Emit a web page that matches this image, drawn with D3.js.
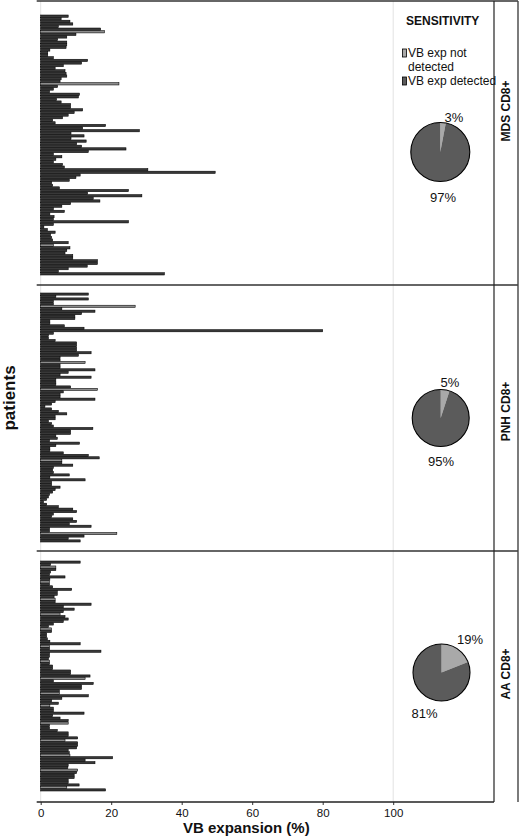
<!DOCTYPE html>
<html><head><meta charset="utf-8">
<script src="https://cdn.jsdelivr.net/npm/d3@7"></script>
<style>
body{margin:0;background:#fff}
svg{display:block}
text{font-family:"Liberation Sans",Arial,Helvetica,sans-serif;fill:#111}
</style>
</head><body>
<svg id="chart" width="520" height="837"></svg>
<script>
// ---------- DATA ----------
const panelNames = ["MDS CD8+", "PNH CD8+", "AA CD8+"];

const mdsValues = [7.8,5.8,8.3,9.1,5.0,17.0,18.1,10.0,7.4,4.8,
7.4,7.4,7.2,2.6,2.0,2.0,3.6,13.3,11.6,6.4,
4.1,6.9,7.2,7.4,5.8,5.5,22.2,4.8,3.6,2.5,
11.0,10.7,4.5,5.8,8.5,8.5,11.9,9.5,7.8,6.2,
3.4,4.1,18.4,11.9,28.0,8.6,12.3,8.6,12.9,10.2,
11.6,24.2,13.5,3.6,6.0,4.3,3.6,6.2,6.7,30.4,
49.5,11.2,10.0,8.1,3.1,3.4,5.3,24.9,13.3,28.7,
14.9,16.8,8.5,6.0,3.6,6.7,2.6,3.8,3.6,24.9,
3.6,0.9,1.9,4.1,2.8,3.1,3.4,7.8,3.6,8.3,
7.4,6.9,9.1,9.1,16.1,16.1,13.2,7.8,5.0,35.1];

const pnhValues = [13.5,4.3,13.5,3.6,3.6,26.8,6.0,15.4,11.6,9.7,
9.7,2.6,2.6,6.7,12.3,80,3.6,2.2,2.2,4.1,
10.2,10.2,10.2,10.2,14.3,10.7,5.5,5.5,12.6,5.5,
5.5,15.4,7.8,5.5,14.3,4.3,4.3,4.3,8.5,16.1,
6.4,5.5,5.5,15.4,4.1,3.1,1.2,3.1,5.0,7.4,
4.1,4.1,2.2,3.1,3.6,14.8,8.5,8.5,
4.3,4.7,2.5,11.0,4.3,2.6,2.6,6.4,13.5,16.6,
6.0,6.0,9.1,3.6,3.4,3.6,8.1,2.6,12.6,3.1,
3.1,5.5,4.1,3.4,2.5,2.2,1.7,0.8,1.7,5.0,
9.1,10.2,3.6,3.1,9.1,10.2,8.1,14.3,2.5,2.5,
21.6,12.3,7.8,11.2];

const aaValues = [11.2,2.8,4.3,4.3,2.8,2.5,6.9,2.6,2.5,2.5,
3.4,8.8,4.7,4.7,3.8,4.1,4.1,14.3,6.4,9.5,
6.4,5.5,6.9,7.8,6.4,3.6,2.2,3.1,3.1,1.7,
1.7,1.9,2.6,11.2,2.5,2.5,17.1,2.5,2.5,2.2,
2.5,2.5,3.4,3.4,8.5,8.5,14.0,12.6,3.6,14.9,
11.6,11.6,5.3,5.3,13.5,6.0,3.1,
5.0,2.6,3.6,3.6,12.3,3.4,5.5,7.8,7.8,2.5,
2.5,4.7,7.8,7.8,10.5,6.9,10.5,10.5,10.2,7.8,
8.1,8.3,20.4,12.6,15.4,7.8,7.7,10.5,10.2,9.5,
9.5,7.8,7.8,10.9,7.4,18.4];

// indices of bars drawn with lighter fill
const mdsLight = [6, 26, 88];
const pnhLight = [5, 28, 39, 68, 98];
const aaLight = [2, 8, 15, 21, 27, 34, 40, 47, 53, 58, 65, 72, 78, 84, 91];

const notDetectedPct = [3, 5, 19];
const detectedPct = [97, 95, 81];
const legendLabels = ["VB exp not\ndetected", "VB exp detected"];
const xTicks = [0, 20, 40, 60, 80, 100];

// ---------- LAYOUT ----------
const svg = d3.select("#chart");
const plotLeft = 36.7, plotRight = 494, outerRight = 518;
const x = d3.scaleLinear().domain([0, 100]).range([40.7, 393.2]);

const layout = [
  {top: 1,   bottom: 285, padTop: 14, padBot: 10, pie: [440.3, 152, 29.5], lblSmall: [454, 122], lblBig: [443, 202], strip: 111},
  {top: 285, bottom: 551, padTop: 8,  padBot: 9,  pie: [440.7, 418, 28.5], lblSmall: [450, 386.5], lblBig: [441, 466], strip: 411.5},
  {top: 551, bottom: 802, padTop: 10, padBot: 11, pie: [441.5, 672.5, 28.5], lblSmall: [470, 644], lblBig: [424.5, 718], strip: 674}
];
const seriesValues = [mdsValues, pnhValues, aaValues];
const seriesLight = [mdsLight, pnhLight, aaLight];

const darkFill = "#383838", lightFill = "#8c8c8c";
const pieDark = "#5b5b5b", pieLight = "#a9a9a9";

// gridlines at 0 and 100
svg.append("g").selectAll("line").data([0, 100]).join("line")
  .attr("x1", d => x(d)).attr("x2", d => x(d))
  .attr("y1", 1).attr("y2", 802)
  .attr("stroke", "#e2e2e2").attr("stroke-width", 1);

layout.forEach((L, p) => {
  const vals = seriesValues[p];
  const light = new Set(seriesLight[p]);
  const y = d3.scaleBand().domain(d3.range(vals.length))
    .range([L.top + L.padTop, L.bottom - L.padBot]).paddingInner(0.12);
  const g = svg.append("g");
  g.selectAll("rect").data(vals).join("rect")
    .attr("x", x(0))
    .attr("y", (d, i) => y(i))
    .attr("width", d => x(d) - x(0))
    .attr("height", y.bandwidth())
    .attr("fill", (d, i) => light.has(i) ? lightFill : darkFill)
    .attr("stroke", "#000").attr("stroke-width", 0.55);

  // pie
  const [cx, cy, r] = L.pie;
  const pie = d3.pie().sort(null)([notDetectedPct[p], detectedPct[p]]);
  const arc = d3.arc().innerRadius(0).outerRadius(r);
  const pg = svg.append("g").attr("transform", `translate(${cx},${cy})`);
  pg.selectAll("path").data(pie).join("path")
    .attr("d", arc)
    .attr("fill", (d, i) => i === 0 ? pieLight : pieDark)
    .attr("stroke", "none");
  pg.append("circle").attr("r", r).attr("fill", "none").attr("stroke", "#000").attr("stroke-width", 1.1);
  svg.append("text").attr("x", L.lblSmall[0]).attr("y", L.lblSmall[1])
    .attr("text-anchor", "middle").attr("font-size", 13).text(notDetectedPct[p] + "%");
  svg.append("text").attr("x", L.lblBig[0]).attr("y", L.lblBig[1])
    .attr("text-anchor", "middle").attr("font-size", 13).text(detectedPct[p] + "%");

  // strip label
  svg.append("text")
    .attr("transform", `translate(510,${L.strip}) rotate(-90)`)
    .attr("text-anchor", "middle").attr("font-size", 12).attr("font-weight", "bold")
    .text(panelNames[p]);

  // top border of panel
  svg.append("line").attr("x1", plotLeft).attr("x2", outerRight)
    .attr("y1", L.top).attr("y2", L.top)
    .attr("stroke", "#333").attr("stroke-width", 1.4);
});

// right borders
svg.append("line").attr("x1", plotRight).attr("x2", plotRight).attr("y1", 1).attr("y2", 802)
  .attr("stroke", "#222").attr("stroke-width", 1.2);
svg.append("line").attr("x1", outerRight).attr("x2", outerRight).attr("y1", 1).attr("y2", 802)
  .attr("stroke", "#444").attr("stroke-width", 1.4);

// x axis
const xAxis = d3.axisBottom(x).tickValues(xTicks).tickSize(3).tickPadding(4);
const ax = svg.append("g").attr("transform", "translate(0,802)").call(xAxis);
ax.select(".domain").remove();
ax.selectAll("text").attr("font-size", 11.5).attr("fill", "#111")
  .attr("font-family", '"Liberation Sans",Arial,sans-serif');
ax.selectAll("line").attr("stroke", "#333");
svg.append("line").attr("x1", plotLeft).attr("x2", plotRight).attr("y1", 802).attr("y2", 802)
  .attr("stroke", "#222").attr("stroke-width", 1.3);

svg.append("text").attr("x", 183).attr("y", 833).attr("font-size", 15).attr("font-weight", "bold")
  .text("VB expansion (%)");
svg.append("text").attr("transform", "translate(14.5,398) rotate(-90)")
  .attr("text-anchor", "middle").attr("font-size", 17).attr("font-weight", "bold").text("patients");

// legend
svg.append("text").attr("x", 406).attr("y", 25).attr("font-size", 12).attr("font-weight", "bold").text("SENSITIVITY");
const leg = [{fill: pieLight, y: 49, lines: legendLabels[0].split("\n"), base: 57},
             {fill: pieDark, y: 77, lines: legendLabels[1].split("\n"), base: 85}];
leg.forEach(l => {
  svg.append("rect").attr("x", 402.5).attr("y", l.y).attr("width", 4).attr("height", 8)
    .attr("fill", l.fill).attr("stroke", "#000").attr("stroke-width", 0.8);
  l.lines.forEach((t, k) => {
    svg.append("text").attr("x", 408).attr("y", l.base + k * 14).attr("font-size", 12).text(t);
  });
});
</script>
</body></html>
